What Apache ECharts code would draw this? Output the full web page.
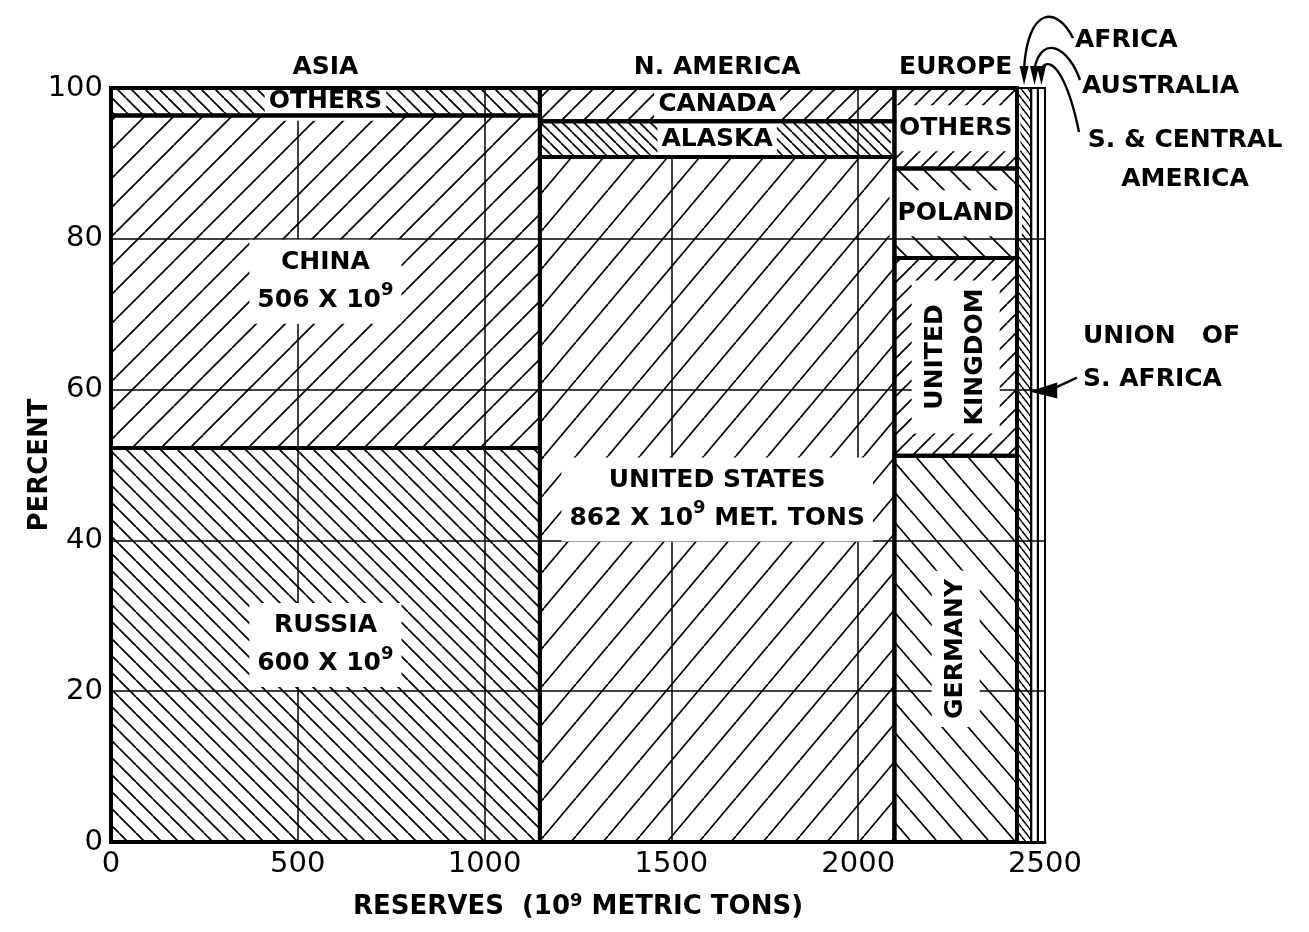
<!DOCTYPE html>
<html>
<head>
<meta charset="utf-8">
<script src="https://cdn.jsdelivr.net/npm/echarts@6/dist/echarts.min.js"></script>
<style>
html,body{margin:0;padding:0;background:#fff;}
#chart{width:1309px;height:932px;}
</style>
</head>
<body>
<div id="chart"></div>
<script>
// ---------------- DATA ----------------
const regionNames = ['ASIA', 'N. AMERICA', 'EUROPE', 'AFRICA', 'AUSTRALIA', 'S. & CENTRAL AMERICA'];
// segments of each region, listed bottom to top (values in 10^9 metric tons)
const asiaNames = ['RUSSIA', 'CHINA', 'OTHERS'];
const asiaValues = [600, 506, 42];
const northAmericaNames = ['UNITED STATES', 'ALASKA', 'CANADA'];
const northAmericaValues = [862, 45, 42];
const europeNames = ['GERMANY', 'UNITED KINGDOM', 'POLAND', 'OTHERS'];
const europeValues = [168, 86, 39, 35];
const africaNames = ['UNION OF S. AFRICA'];
const africaValues = [38];
const australiaNames = ['AUSTRALIA'];
const australiaValues = [18];
const scAmericaNames = ['S. & CENTRAL AMERICA'];
const scAmericaValues = [19];
const xTicks = [0, 500, 1000, 1500, 2000, 2500];
const yTicks = [0, 20, 40, 60, 80, 100];
const xAxisTitle = 'RESERVES  (10{s|9} METRIC TONS)';
const yAxisTitle = 'PERCENT';
const valueLabelled = ['RUSSIA', 'CHINA', 'UNITED STATES'];
const unitSuffix = {'UNITED STATES': ' MET. TONS'};

// ---------------- BUILD CELLS ----------------
const regionSegs = [
  [asiaNames, asiaValues], [northAmericaNames, northAmericaValues], [europeNames, europeValues],
  [africaNames, africaValues], [australiaNames, australiaValues], [scAmericaNames, scAmericaValues]
];
const cells = [];
const regionSpans = [];
let xCum = 0;
regionSegs.forEach(([names, vals], r) => {
  const total = vals.reduce((a, b) => a + b, 0);
  let cum = 0;
  vals.forEach((v, i) => {
    const y0 = cum / total * 100; cum += v; const y1 = cum / total * 100;
    cells.push([xCum, xCum + total, y0, y1, r, i]);
  });
  regionSpans.push([xCum, xCum + total, r]);
  xCum += total;
});

// ---------------- STYLES ----------------
const FONT = '"DejaVu Sans", "Liberation Sans", sans-serif';
const FW = 'bold';
function hatch(dir, w, h, lw) {
  const c = document.createElement('canvas');
  c.width = w; c.height = h;
  const g = c.getContext('2d');
  g.fillStyle = '#fff'; g.fillRect(0, 0, w, h);
  g.strokeStyle = '#000'; g.lineWidth = lw;
  for (let k = -1; k <= 1; k++) {
    g.beginPath();
    if (dir === '/') { g.moveTo(k * w, h); g.lineTo(k * w + w, 0); }
    else { g.moveTo(k * w, 0); g.lineTo(k * w + w, h); }
    g.stroke();
  }
  return {image: c, repeat: 'repeat'};
}
const hatchStyle = {
  '0-0': ['\\', 17, 17, 1.7], '0-1': ['/', 29, 29, 1.7], '0-2': ['\\', 14, 14, 1.7],
  '1-0': ['/', 32, 38, 1.7], '1-1': ['\\', 11, 11, 1.7], '1-2': ['/', 22, 22, 1.7],
  '2-0': ['\\', 26, 30, 1.7], '2-1': ['/', 19, 19, 1.7], '2-2': ['\\', 26, 26, 1.7], '2-3': ['/', 17, 17, 1.7],
  '3-0': ['\\', 7, 9, 1.4]
};
const patterns = {};
Object.keys(hatchStyle).forEach(k => { const s = hatchStyle[k]; patterns[k] = hatch(s[0], s[1], s[2], s[3]); });
const rotatedLabels = ['GERMANY', 'UNITED KINGDOM'];
const outsideRegions = [3, 4, 5];

function rectOf(api, x0, x1, y0, y1) {
  const a = api.coord([x0, y1]);
  const b = api.coord([x1, y0]);
  return {x: a[0], y: a[1], width: b[0] - a[0], height: b[1] - a[1]};
}
const txt = (extra) => Object.assign({fill: '#000', fontSize: 25, fontWeight: FW, fontFamily: FONT}, extra);

const option = {
  animation: false,
  backgroundColor: '#fff',
  grid: {left: 111, right: 264, top: 88, bottom: 90},
  xAxis: {
    type: 'value', min: xTicks[0], max: xTicks[xTicks.length - 1], interval: xTicks[1] - xTicks[0], z: 3,
    axisLine: {show: true, lineStyle: {color: '#000', width: 3}},
    axisTick: {show: false},
    axisLabel: {color: '#000', fontSize: 29, fontFamily: FONT, margin: 8, formatter: v => String(v)},
    splitLine: {show: true, lineStyle: {color: '#000', width: 1.5}},
    name: xAxisTitle, nameLocation: 'middle', nameGap: 50, nameMoveOverlap: false,
    nameTextStyle: {color: '#000', fontSize: 26, fontWeight: FW, fontFamily: FONT,
      rich: {s: {fontSize: 18, fontWeight: FW, fontFamily: FONT, color: '#000', verticalAlign: 'top', padding: [0, 0, 12, 0]}}}
  },
  yAxis: {
    type: 'value', min: yTicks[0], max: yTicks[yTicks.length - 1], interval: yTicks[1] - yTicks[0], z: 3,
    axisLine: {show: true, lineStyle: {color: '#000', width: 3}},
    axisTick: {show: false},
    axisLabel: {color: '#000', fontSize: 29, fontFamily: FONT, margin: 8, formatter: v => String(v)},
    splitLine: {show: true, lineStyle: {color: '#000', width: 1.5}},
    name: yAxisTitle, nameLocation: 'middle', nameGap: 58, nameMoveOverlap: false,
    nameTextStyle: {color: '#000', fontSize: 26, fontWeight: FW, fontFamily: FONT}
  },
  series: [
    {
      // hatched fills
      type: 'custom', z: 1, data: cells,
      renderItem: (params, api) => {
        const d = cells[params.dataIndex];
        const key = d[4] + '-' + d[5];
        return {type: 'rect', shape: rectOf(api, d[0], d[1], d[2], d[3]),
          style: {fill: patterns[key] || '#fff', stroke: null}};
      }
    },
    {
      // cell labels with white background
      type: 'custom', z: 5, data: cells,
      renderItem: (params, api) => {
        const d = cells[params.dataIndex];
        const r = d[4], i = d[5];
        if (outsideRegions.indexOf(r) >= 0) return null;
        const name = regionSegs[r][0][i];
        const val = regionSegs[r][1][i];
        const rc = rectOf(api, d[0], d[1], d[2], d[3]);
        const cx = rc.x + rc.width / 2, cy = rc.y + rc.height / 2;
        let text = name;
        if (valueLabelled.indexOf(name) >= 0) text = name + '\n' + val + ' X 10{s|9}' + (unitSuffix[name] || '');
        const rot = rotatedLabels.indexOf(name) >= 0;
        if (rot) text = name.split(' ').join('\n');
        const small = rc.height < 45;
        return {type: 'text', x: cx, y: cy, rotation: rot ? Math.PI / 2 : 0,
          style: txt({text: text, align: 'center', verticalAlign: 'middle',
            lineHeight: rot ? 40 : 38,
            backgroundColor: '#fff', padding: small ? [0, 4] : [4, 8],
            rich: {s: {fontSize: 18, fontWeight: FW, fontFamily: FONT, fill: '#000', verticalAlign: 'top', padding: [0, 0, 14, 0]}}})};
      }
    },
    {
      // cell borders
      type: 'custom', z: 6, data: cells,
      renderItem: (params, api) => {
        const d = cells[params.dataIndex];
        const thin = outsideRegions.indexOf(d[4]) >= 0;
        return {type: 'rect', shape: rectOf(api, d[0], d[1], d[2], d[3]),
          style: {fill: null, stroke: '#000', lineWidth: thin ? 2 : 4}};
      }
    },
    {
      // region names above columns
      type: 'custom', z: 6, data: regionSpans,
      renderItem: (params, api) => {
        const d = regionSpans[params.dataIndex];
        if (outsideRegions.indexOf(d[2]) >= 0) return null;
        const p = api.coord([(d[0] + d[1]) / 2, 100]);
        return {type: 'text', x: p[0], y: p[1] - 21,
          style: txt({text: regionNames[d[2]], align: 'center', verticalAlign: 'middle'})};
      }
    }
  ]
};

const chart = echarts.init(document.getElementById('chart'), null, {renderer: 'canvas'});
chart.setOption(option);

// ---------------- ANNOTATIONS FOR THIN STRIPS ----------------
const P = v => chart.convertToPixel({gridIndex: 0}, v);
const spanOf = r => regionSpans[r];
const topY = P([0, 100])[1];
const xR = P([xTicks[xTicks.length - 1], 0])[0];
const tip = r => P([(spanOf(r)[0] + spanOf(r)[1]) / 2, 100]);
const g = [];
function arrowDown(x, y) {
  return {type: 'polygon', z: 10, shape: {points: [[x, y], [x - 4.5, y - 19], [x + 4.5, y - 19]]}, style: {fill: '#000'}};
}
function curve(x1, y1, c1x, c1y, c2x, c2y, x2, y2) {
  return {type: 'bezierCurve', z: 10, shape: {x1, y1, cpx1: c1x, cpy1: c1y, cpx2: c2x, cpy2: c2y, x2, y2},
    style: {stroke: '#000', lineWidth: 2.4, fill: null}};
}
const tA = tip(3), tB = tip(4), tC = tip(5);
// AFRICA
g.push({type: 'text', z: 10, x: xR + 30, y: topY - 48, style: txt({text: regionNames[3], align: 'left', verticalAlign: 'middle'})});
g.push(curve(xR + 28, topY - 50, xR + 12, topY - 82, tA[0] + 4, topY - 82, tA[0], topY - 20));
g.push(arrowDown(tA[0], topY - 3));
// AUSTRALIA
g.push({type: 'text', z: 10, x: xR + 37, y: topY - 2, style: txt({text: regionNames[4], align: 'left', verticalAlign: 'middle'})});
g.push(curve(xR + 35, topY - 8, xR + 24, topY - 40, tB[0] + 8, topY - 55, tB[0], topY - 20));
g.push(arrowDown(tB[0], topY - 3));
// S. & CENTRAL AMERICA
g.push({type: 'text', z: 10, x: xR + 140, y: topY + 72, style: txt({text: regionNames[5].replace('CENTRAL ', 'CENTRAL\n'), lineHeight: 39, align: 'center', verticalAlign: 'middle'})});
g.push(curve(xR + 34, topY + 44, xR + 24, topY - 5, xR + 8, topY - 35, tC[0], topY - 20));
g.push(arrowDown(tC[0], topY - 3));
// UNION OF S. AFRICA
const u = P([spanOf(3)[1], 60]);
g.push({type: 'text', z: 10, x: xR + 38, y: u[1] - 32, style: txt({text: africaNames[0].replace('UNION OF ', 'UNION   OF\n'), lineHeight: 43, align: 'left', verticalAlign: 'middle'})});
g.push({type: 'line', z: 10, shape: {x1: xR + 32, y1: u[1] - 12, x2: u[0] + 20, y2: u[1]}, style: {stroke: '#000', lineWidth: 2.4}});
g.push({type: 'polygon', z: 10, shape: {points: [[u[0] - 2, u[1] + 2], [u[0] + 26, u[1] - 7], [u[0] + 26, u[1] + 9]]}, style: {fill: '#000'}});
chart.setOption({graphic: g});
</script>
</body>
</html>
